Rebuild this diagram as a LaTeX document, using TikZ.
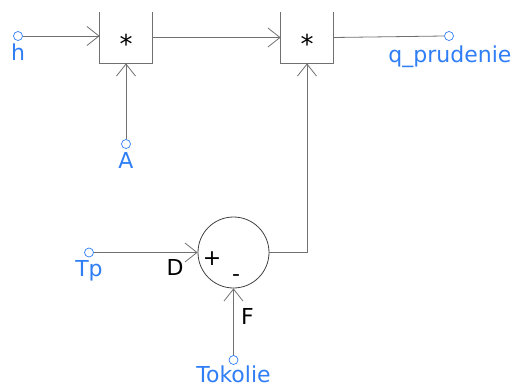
\documentclass[tikz,border=0pt]{standalone}
\usepackage{fontspec}
\setmainfont{DejaVu Sans}
\usetikzlibrary{arrows.meta, positioning}
\definecolor{cline}{HTML}{707070}
\definecolor{cport}{HTML}{2F7EF5}
\tikzset{
  every picture/.style={x=1pt, y=-1pt, line width=0.8pt},
  wire/.style={draw=cline, -{Straight Barb[length=12pt, width=19pt]}},
  plain/.style={draw=cline},
  port/.style={circle, draw=cport, fill=white, inner sep=0pt, minimum size=9pt, line width=0.7pt},
  portlabel/.style={text=cport, font=\fontsize{22}{22}\selectfont, inner sep=0pt},
  mulbox/.style={minimum width=52pt, minimum height=51pt, inner sep=0pt, font=\fontsize{26}{26}\selectfont},
  sumnode/.style={circle, draw=black!75, minimum size=71pt, inner sep=0pt},
  sign/.style={font=\fontsize{22}{22}\selectfont, inner sep=0pt},
}
\begin{document}
\begin{tikzpicture}
  \useasboundingbox (0,0) rectangle (512,388);
  % multipliers (open on top)
  \node[mulbox] (m1) at (126,37.5) {};
  \node[mulbox] (m2) at (307,37.5) {};
  \node[mulbox] at (126,44) {*};
  \node[mulbox] at (307,44) {*};
  \draw[plain] (m1.north west) -- (m1.south west) -- (m1.south east) -- (m1.north east);
  \draw[plain] (m2.north west) -- (m2.south west) -- (m2.south east) -- (m2.north east);
  % summing junction
  \node[sumnode] (sum) at (233.5,252.5) {};
  \node[sign] at (212,259) {+};
  \node[sign] at (236,278) {-};
  \node[sign] at (175,267.5) {D};
  \node[sign] at (247.5,316) {F};
  % ports
  \node[port] (h) at (18,36) {};
  \node[portlabel] at (18,52.5) {h};
  \node[port] (A) at (126,144) {};
  \node[portlabel] at (126,160.5) {A};
  \node[port] (q) at (449,36) {};
  \node[portlabel] at (450,56.5) {q\_prudenie};
  \node[port] (Tp) at (89,252.5) {};
  \node[portlabel] at (89,271) {Tp};
  \node[port] (Tok) at (233.5,360) {};
  \node[portlabel] at (233.5,374.5) {Tokolie};
  % connections
  \draw[wire] (h.east) -- (h.east -| m1.west);
  \draw[wire] (A.north) -- (m1.south);
  \draw[wire] (m1.east) -- (m2.west);
  \draw[plain] (m2.east) -- (q.west);
  \draw[wire] (Tp.east) -- (sum.west);
  \draw[wire] (Tok.north) -- (sum.south);
  \draw[wire] (sum.east) -| (m2.south);
\end{tikzpicture}
\end{document}
